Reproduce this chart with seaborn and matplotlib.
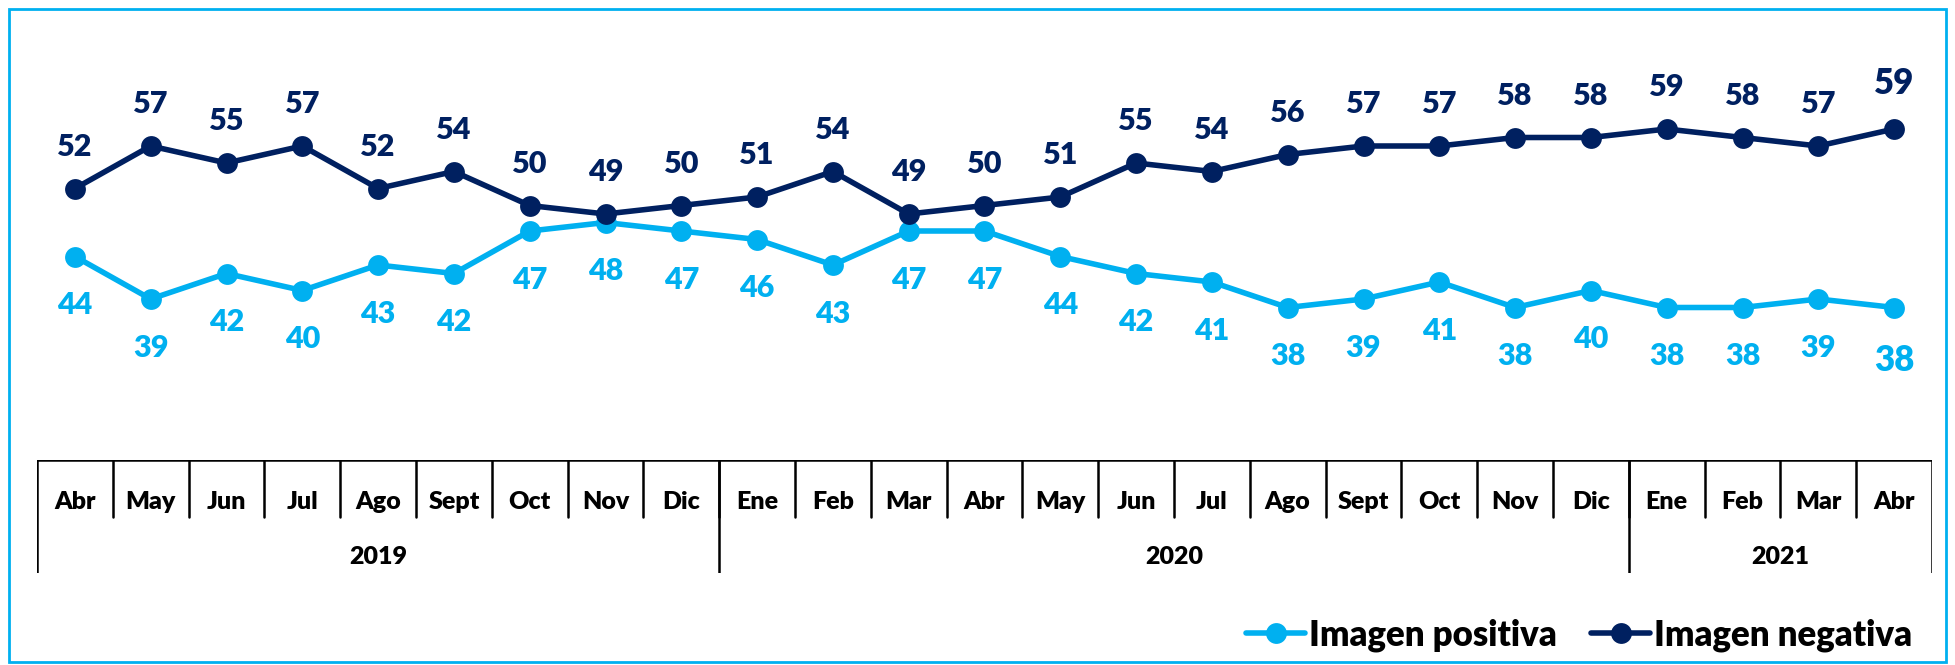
import pandas as pd
import matplotlib.pyplot as plt
import seaborn as sns
from matplotlib.patches import Rectangle

# monthly values (%)
months = ["Abr", "May", "Jun", "Jul", "Ago", "Sept", "Oct", "Nov", "Dic",
          "Ene", "Feb", "Mar", "Abr", "May", "Jun", "Jul", "Ago", "Sept", "Oct", "Nov", "Dic",
          "Ene", "Feb", "Mar", "Abr"]
years = ["2019", "2020", "2021"]
months_per_year = [9, 12, 4]
positiva = [44, 39, 42, 40, 43, 42, 47, 48, 47, 46, 43, 47, 47, 44, 42, 41, 38, 39, 41, 38, 40, 38, 38, 39, 38]
negativa = [52, 57, 55, 57, 52, 54, 50, 49, 50, 51, 54, 49, 50, 51, 55, 54, 56, 57, 57, 58, 58, 59, 58, 57, 59]

series_names = ["Imagen positiva", "Imagen negativa"]
colors = {"Imagen positiva": "#00B0F0", "Imagen negativa": "#002060"}

df = pd.DataFrame({
    "idx": list(range(len(months))) * 2,
    "valor": positiva + negativa,
    "serie": [series_names[0]] * len(positiva) + [series_names[1]] * len(negativa),
})

sns.set_style("white")
plt.rcParams['font.family'] = ['Lato', 'DejaVu Sans']
plt.rcParams['font.weight'] = 'heavy'
plt.rcParams['text.color'] = 'black'

W, H = 1955, 665
fig = plt.figure(figsize=(W / 100, H / 100), dpi=100)

# main line axes
x0, x1 = 37, 1932
ax = fig.add_axes([x0 / W, 1 - 375.5 / H, (x1 - x0) / W, (375.5 - 78) / H])
sns.lineplot(data=df, x="idx", y="valor", hue="serie", hue_order=series_names,
             palette=colors, marker="o", markersize=15, markeredgewidth=0,
             linewidth=4, sort=False, ax=ax, legend=True)
ax.set_xlim(-0.5, len(months) - 0.5)
ax.set_ylim(30, 65)
ax.axis("off")

n = len(months)
for i, v in enumerate(negativa):
    big = i == n - 1
    ax.annotate(str(v), (i, v), xytext=(0, 33 if big else 30), textcoords="offset points",
                ha="center", va="center", fontsize=25 if big else 22,
                fontweight="heavy", color=colors["Imagen negativa"])
for i, v in enumerate(positiva):
    big = i == n - 1
    ax.annotate(str(v), (i, v), xytext=(0, -38 if big else -35), textcoords="offset points",
                ha="center", va="center", fontsize=25 if big else 22,
                fontweight="heavy", color=colors["Imagen positiva"])

handles, labels = ax.get_legend_handles_labels()
ax.get_legend().remove()

# category table under the chart
tab = fig.add_axes([x0 / W, 1 - 573 / H, (x1 - x0) / W, 113 / H])
tab.set_xlim(-0.5, n - 0.5)
tab.set_ylim(0, 1)
tab.axis("off")
lw = 1.8
tab.plot([-0.5, n - 0.5], [1, 1], color="black", lw=lw, solid_capstyle="butt")
for i, m in enumerate(months):
    tab.text(i, 0.63, m, ha="center", va="center", fontsize=18, fontweight="heavy")
    if i > 0:
        tab.plot([i - 0.5, i - 0.5], [0.5, 1], color="black", lw=lw)
start = 0
bounds = [-0.5]
for y, cnt in zip(years, months_per_year):
    tab.text(start + (cnt - 1) / 2, 0.14, y, ha="center", va="center", fontsize=18, fontweight="heavy")
    start += cnt
    bounds.append(start - 0.5)
for b in bounds:
    tab.plot([b, b], [0, 1], color="black", lw=lw)

fig.legend(handles, labels, loc="center right", bbox_to_anchor=(0.978, 0.045),
           ncol=2, frameon=False, prop={"size": 25, "weight": "heavy"},
           handlelength=1.7, handletextpad=0.1,
           columnspacing=1.0, borderpad=0, borderaxespad=0, markerscale=1.0)

# light blue frame
fig.patches.append(Rectangle((9 / W, 3 / H), 1937 / W, 653 / H, transform=fig.transFigure,
                             fill=False, edgecolor="#00B0F0", lw=2))

fig.savefig("out.png", dpi=100)
